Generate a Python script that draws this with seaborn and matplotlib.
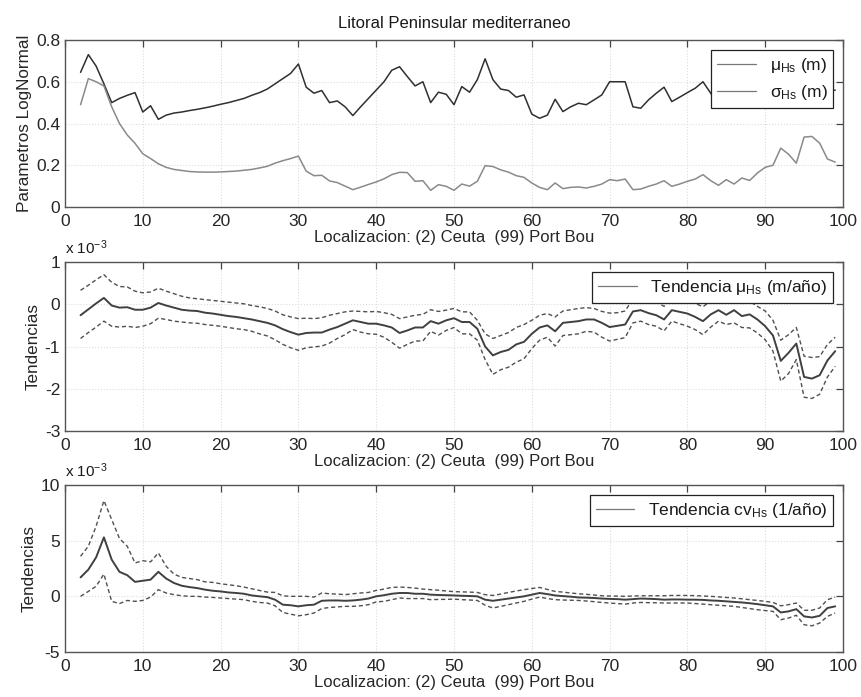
import numpy as np
import pandas as pd
import matplotlib
matplotlib.use("Agg")
import matplotlib.pyplot as plt
import seaborn as sns

# Localizacion index along the coast (2 = Ceuta ... 99 = Port Bou)
loc = list(range(2, 100))

# Top panel: LogNormal parameters
mu_hs = [0.645, 0.73, 0.675, 0.59, 0.50, 0.52, 0.535, 0.548, 0.455, 0.485,
         0.42, 0.44, 0.45, 0.455, 0.462, 0.468, 0.475, 0.483, 0.492, 0.50,
         0.51, 0.52, 0.535, 0.548, 0.565, 0.59, 0.615, 0.64, 0.685, 0.574,
         0.545, 0.558, 0.50, 0.508, 0.48, 0.438, 0.48, 0.52, 0.56, 0.60,
         0.655, 0.672, 0.625, 0.58, 0.60, 0.50, 0.55, 0.54, 0.49, 0.577,
         0.55, 0.61, 0.71, 0.61, 0.565, 0.558, 0.526, 0.537, 0.445, 0.425,
         0.44, 0.516, 0.457, 0.48, 0.497, 0.49, 0.513, 0.537, 0.60, 0.60,
         0.60, 0.48, 0.473, 0.513, 0.545, 0.574, 0.505, 0.526, 0.548, 0.569,
         0.60, 0.545, 0.485, 0.50, 0.473, 0.55, 0.58, 0.60, 0.57, 0.55,
         0.58, 0.60, 0.56, 0.58, 0.60, 0.57, 0.55, 0.56]
sigma_hs = [0.49, 0.615, 0.60, 0.58, 0.48, 0.40, 0.345, 0.305, 0.255, 0.232,
            0.207, 0.19, 0.18, 0.175, 0.17, 0.168, 0.167, 0.167, 0.168, 0.17,
            0.172, 0.176, 0.18, 0.187, 0.195, 0.21, 0.222, 0.232, 0.244, 0.172,
            0.15, 0.152, 0.125, 0.117, 0.10, 0.083, 0.095, 0.108, 0.12, 0.135,
            0.155, 0.166, 0.165, 0.123, 0.126, 0.08, 0.107, 0.099, 0.08, 0.11,
            0.10, 0.123, 0.198, 0.194, 0.178, 0.167, 0.15, 0.142, 0.115, 0.094,
            0.083, 0.115, 0.088, 0.094, 0.096, 0.091, 0.099, 0.11, 0.131, 0.126,
            0.134, 0.083, 0.086, 0.099, 0.11, 0.126, 0.099, 0.11, 0.123, 0.134,
            0.155, 0.126, 0.104, 0.131, 0.11, 0.139, 0.127, 0.163, 0.19, 0.20,
            0.282, 0.253, 0.21, 0.335, 0.338, 0.306, 0.23, 0.215]

# Middle panel: trend of mu (x 1e-3 m/year) with confidence band
tr_mu = [-0.26, -0.12, 0.02, 0.15, -0.03, -0.08, -0.07, -0.13, -0.13, -0.08,
         0.03, -0.03, -0.08, -0.13, -0.15, -0.16, -0.20, -0.22, -0.25, -0.28,
         -0.30, -0.33, -0.36, -0.40, -0.44, -0.50, -0.59, -0.66, -0.72, -0.68,
         -0.67, -0.67, -0.60, -0.54, -0.46, -0.38, -0.42, -0.46, -0.46, -0.50,
         -0.55, -0.68, -0.62, -0.55, -0.55, -0.40, -0.46, -0.38, -0.33, -0.42,
         -0.42, -0.58, -1.00, -1.21, -1.13, -1.08, -0.95, -0.89, -0.70, -0.55,
         -0.50, -0.64, -0.44, -0.42, -0.40, -0.36, -0.36, -0.44, -0.54, -0.51,
         -0.48, -0.17, -0.14, -0.21, -0.26, -0.36, -0.14, -0.18, -0.22, -0.30,
         -0.40, -0.24, -0.14, -0.25, -0.14, -0.28, -0.24, -0.36, -0.52, -0.74,
         -1.34, -1.15, -0.93, -1.72, -1.76, -1.68, -1.33, -1.11]
tr_mu_hi = [0.33, 0.45, 0.58, 0.70, 0.52, 0.42, 0.41, 0.31, 0.27, 0.29,
            0.38, 0.31, 0.25, 0.19, 0.15, 0.13, 0.11, 0.09, 0.07, 0.05,
            0.03, 0.01, -0.03, -0.06, -0.10, -0.16, -0.25, -0.30, -0.34, -0.33,
            -0.34, -0.32, -0.26, -0.22, -0.18, -0.16, -0.17, -0.18, -0.17, -0.20,
            -0.24, -0.34, -0.30, -0.26, -0.24, -0.13, -0.17, -0.14, -0.10, -0.18,
            -0.18, -0.38, -0.70, -0.81, -0.74, -0.67, -0.55, -0.48, -0.38, -0.26,
            -0.22, -0.30, -0.16, -0.13, -0.10, -0.08, -0.10, -0.17, -0.21, -0.20,
            -0.16, 0.13, 0.16, 0.10, 0.05, -0.05, 0.17, 0.13, 0.09, 0.02,
            -0.06, 0.08, 0.17, 0.06, 0.17, 0.03, 0.07, -0.05, -0.16, -0.38,
            -0.85, -0.72, -0.55, -1.23, -1.26, -1.24, -0.95, -0.78]
tr_mu_lo = [-0.81, -0.67, -0.54, -0.40, -0.52, -0.54, -0.52, -0.55, -0.52, -0.46,
            -0.33, -0.36, -0.40, -0.42, -0.44, -0.45, -0.48, -0.50, -0.52, -0.55,
            -0.58, -0.60, -0.64, -0.70, -0.75, -0.84, -0.95, -1.03, -1.09, -1.03,
            -1.01, -0.99, -0.92, -0.81, -0.72, -0.60, -0.66, -0.70, -0.71, -0.78,
            -0.90, -1.04, -0.95, -0.87, -0.87, -0.64, -0.73, -0.62, -0.55, -0.70,
            -0.70, -0.85, -1.31, -1.66, -1.55, -1.49, -1.37, -1.29, -1.05, -0.85,
            -0.78, -0.99, -0.74, -0.72, -0.70, -0.64, -0.66, -0.78, -0.87, -0.83,
            -0.79, -0.44, -0.40, -0.48, -0.52, -0.63, -0.40, -0.46, -0.52, -0.60,
            -0.72, -0.54, -0.40, -0.48, -0.44, -0.55, -0.56, -0.68, -0.84, -1.11,
            -1.82, -1.64, -1.31, -2.20, -2.23, -2.13, -1.72, -1.47]

# Bottom panel: trend of cv (x 1e-3 1/year) with confidence band
tr_cv = [1.7, 2.4, 3.5, 5.3, 3.3, 2.2, 1.9, 1.3, 1.4, 1.5,
         2.2, 1.6, 1.2, 0.95, 0.83, 0.74, 0.6, 0.5, 0.44, 0.35,
         0.3, 0.23, 0.08, 0.0, -0.07, -0.3, -0.75, -0.8, -0.9, -0.8,
         -0.75, -0.4, -0.37, -0.37, -0.4, -0.37, -0.3, -0.2, 0.0, 0.1,
         0.23, 0.3, 0.3, 0.23, 0.23, 0.15, 0.12, 0.1, 0.08, 0.05,
         0.03, 0.0, -0.3, -0.4, -0.3, -0.2, -0.1, 0.0, 0.15, 0.3,
         0.2, 0.08, 0.02, -0.03, -0.1, -0.12, -0.15, -0.2, -0.23, -0.25,
         -0.3, -0.25, -0.2, -0.22, -0.25, -0.3, -0.28, -0.28, -0.3, -0.3,
         -0.32, -0.37, -0.4, -0.45, -0.5, -0.55, -0.62, -0.7, -0.8, -0.9,
         -1.45, -1.35, -1.15, -1.8, -1.9, -1.75, -1.05, -0.9]
tr_cv_hi = [3.6, 4.5, 6.3, 8.6, 6.9, 5.2, 4.5, 3.0, 3.2, 3.1,
            3.9, 2.7, 2.0, 1.7, 1.6, 1.5, 1.3, 1.25, 1.13, 1.04,
            0.95, 0.83, 0.68, 0.53, 0.38, 0.35, 0.05, 0.0, 0.0, 0.0,
            -0.07, 0.3, 0.23, 0.2, 0.15, 0.23, 0.3, 0.35, 0.53, 0.65,
            0.8, 0.83, 0.8, 0.74, 0.65, 0.6, 0.55, 0.48, 0.42, 0.4,
            0.38, 0.35, 0.15, 0.08, 0.2, 0.35, 0.48, 0.6, 0.7, 0.8,
            0.62, 0.44, 0.38, 0.3, 0.23, 0.18, 0.12, 0.05, 0.03, 0.02,
            0.0, 0.03, 0.05, 0.05, 0.05, 0.05, 0.08, 0.08, 0.08, 0.06,
            0.03, 0.0, -0.05, -0.1, -0.15, -0.22, -0.3, -0.37, -0.45, -0.55,
            -0.85, -0.75, -0.6, -1.25, -1.25, -1.05, -0.3, -0.07]
tr_cv_lo = [0.0, 0.44, 0.9, 2.0, -0.45, -0.65, -0.37, -0.45, -0.37, -0.07,
            0.6, 0.3, 0.15, 0.05, 0.0, 0.0, -0.07, -0.1, -0.15, -0.2,
            -0.25, -0.3, -0.45, -0.55, -0.6, -0.85, -1.45, -1.6, -1.75, -1.65,
            -1.5, -1.1, -1.0, -0.95, -0.9, -0.9, -0.85, -0.75, -0.5, -0.45,
            -0.3, -0.15, -0.2, -0.2, -0.2, -0.3, -0.28, -0.27, -0.25, -0.3,
            -0.33, -0.37, -0.8, -1.05, -0.9, -0.75, -0.6, -0.45, -0.25, -0.07,
            -0.2, -0.3, -0.33, -0.35, -0.37, -0.42, -0.48, -0.55, -0.6, -0.65,
            -0.7, -0.6, -0.55, -0.57, -0.58, -0.6, -0.6, -0.6, -0.6, -0.65,
            -0.7, -0.75, -0.8, -0.85, -0.9, -1.0, -1.1, -1.2, -1.28, -1.35,
            -2.1, -1.95, -1.7, -2.55, -2.65, -2.4, -1.8, -1.5]

XLABEL = "Localizacion: (2) Ceuta  (99) Port Bou"

sns.set_style("white")
plt.rcParams["font.family"] = ["Liberation Sans", "DejaVu Sans"]
plt.rcParams["mathtext.fontset"] = "custom"
plt.rcParams["mathtext.rm"] = "Liberation Sans"
plt.rcParams["mathtext.it"] = "Liberation Sans"
plt.rcParams["axes.unicode_minus"] = False
plt.rcParams["text.color"] = "#1a1a1a"

fig = plt.figure(figsize=(8.61, 6.97), dpi=100)
W, H = 861.0, 697.0
left, width = 65 / W, 778 / W
ax1 = fig.add_axes([left, 1 - 207 / H, width, 167 / H])
ax2 = fig.add_axes([left, 1 - 431 / H, width, 169 / H])
ax3 = fig.add_axes([left, 1 - 652 / H, width, 167 / H])


def style_axis(ax, yticks, ylabel):
    ax.set_xlim(0, 100)
    ax.set_ylim(yticks[0], yticks[-1])
    ax.set_xticks(range(0, 101, 10))
    ax.set_yticks(yticks)
    ax.set_yticklabels([f"{t:g}" for t in yticks])
    ax.grid(True, linestyle=":", color="#dcdcdc", linewidth=0.8)
    ax.tick_params(direction="in", length=5, width=0.9, top=True, right=True,
                   labelsize=12.5, color="#444444")
    ax.tick_params(axis="x", pad=5)
    ax.tick_params(axis="y", pad=3.5)
    for s in ax.spines.values():
        s.set_color("#555555")
        s.set_linewidth(1.0)
    ax.set_xlabel(XLABEL, fontsize=12, labelpad=0.5)
    ax.set_ylabel(ylabel, fontsize=12.3, labelpad=3)


def legend_box(ax, handles, labels, spacing=0.25):
    leg = ax.legend(handles, labels, loc="upper right", fontsize=12.5,
                    frameon=True, fancybox=False, framealpha=1,
                    edgecolor="#222222", borderaxespad=0.55,
                    handlelength=2.2, handletextpad=0.8, borderpad=0.35,
                    labelspacing=spacing)
    leg.get_frame().set_linewidth(0.9)
    for h in leg.get_lines():
        h.set_linewidth(0.9)
        h.set_color("#777777")
    return leg


# Top panel
top = pd.DataFrame({"loc": loc, "mu": mu_hs, "sigma": sigma_hs})
sns.lineplot(data=top, x="loc", y="mu", ax=ax1, color="#303030", linewidth=1.1)
sns.lineplot(data=top, x="loc", y="sigma", ax=ax1, color="#8a8a8a", linewidth=1.1)
style_axis(ax1, [0, 0.2, 0.4, 0.6, 0.8], "Parametros LogNormal")
lines = ax1.get_lines()
legend_box(ax1, lines[:2], [r"$\mu_{\mathrm{Hs}}$ (m)", r"$\sigma_{\mathrm{Hs}}$ (m)"],
           spacing=0.5)
ax1.set_title("Litoral Peninsular mediterraneo", fontsize=12, pad=9)

# Middle panel
mid = pd.DataFrame({"loc": loc, "t": tr_mu, "hi": tr_mu_hi, "lo": tr_mu_lo})
sns.lineplot(data=mid, x="loc", y="t", ax=ax2, color="#404040", linewidth=1.4)
sns.lineplot(data=mid, x="loc", y="hi", ax=ax2, color="#505050", linewidth=1.0,
             linestyle=(0, (3, 2)))
sns.lineplot(data=mid, x="loc", y="lo", ax=ax2, color="#505050", linewidth=1.0,
             linestyle=(0, (3, 2)))
style_axis(ax2, [-3, -2, -1, 0, 1], "Tendencias")
legend_box(ax2, ax2.get_lines()[:1], [r"Tendencia $\mu_{\mathrm{Hs}}$ (m/año)"])
ax2.text(0.0, 1.03, r"x 10$^{-3}$", transform=ax2.transAxes, fontsize=11,
         va="bottom", ha="left")

# Bottom panel
bot = pd.DataFrame({"loc": loc, "t": tr_cv, "hi": tr_cv_hi, "lo": tr_cv_lo})
sns.lineplot(data=bot, x="loc", y="t", ax=ax3, color="#404040", linewidth=1.4)
sns.lineplot(data=bot, x="loc", y="hi", ax=ax3, color="#505050", linewidth=1.0,
             linestyle=(0, (3, 2)))
sns.lineplot(data=bot, x="loc", y="lo", ax=ax3, color="#505050", linewidth=1.0,
             linestyle=(0, (3, 2)))
style_axis(ax3, [-5, 0, 5, 10], "Tendencias")
legend_box(ax3, ax3.get_lines()[:1], [r"Tendencia cv$_{\mathrm{Hs}}$ (1/año)"])
ax3.text(0.0, 1.03, r"x 10$^{-3}$", transform=ax3.transAxes, fontsize=11,
         va="bottom", ha="left")

fig.savefig("out.png", dpi=100)
